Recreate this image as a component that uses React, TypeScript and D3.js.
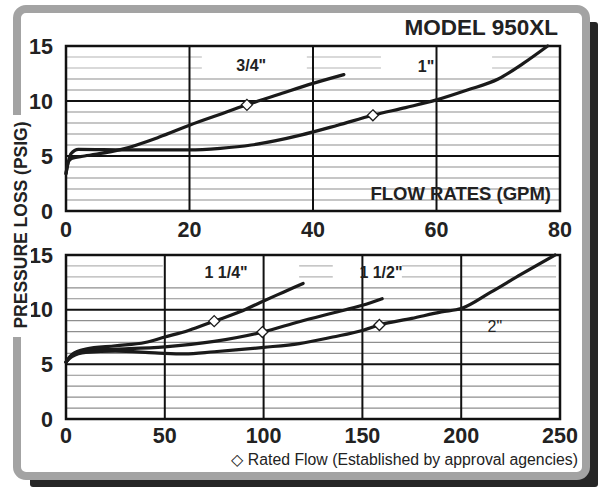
import React, { useEffect, useRef } from 'react';
import * as d3 from 'd3';

// axis ticks
const topTicksX = [0, 20, 40, 60, 80];
const bottomTicksX = [0, 50, 100, 150, 200, 250];
const ticksY = [0, 5, 10, 15];

// top panel: 3/4" and 1"
const flow34 = [0, 0.4, 1, 3, 9, 15, 20, 25, 29.3, 35, 40, 45];
const loss34 = [3.4, 4.5, 4.8, 5.0, 5.6, 6.7, 7.8, 8.8, 9.65, 10.7, 11.6, 12.4];
const flow1 = [0, 0.8, 2, 10, 20, 25, 30, 34, 38, 44, 49.7, 55, 60, 65, 70, 74, 78];
const loss1 = [3.4, 5.2, 5.6, 5.55, 5.55, 5.7, 6.0, 6.4, 6.9, 7.8, 8.7, 9.4, 10.1, 11.0, 12.0, 13.4, 15.0];
const ratedTop = [[29.3, 9.65], [49.7, 8.7]];

// bottom panel: 1 1/4", 1 1/2", 2"
const flow114 = [0, 3, 10, 25, 40, 50, 62, 75, 88, 100, 110, 120];
const loss114 = [5.2, 5.9, 6.4, 6.7, 7.0, 7.5, 8.1, 8.95, 9.8, 10.8, 11.6, 12.4];
const flow112 = [0, 3, 10, 25, 50, 75, 99.4, 118, 135, 150, 160];
const loss112 = [5.2, 5.8, 6.3, 6.4, 6.6, 7.1, 7.95, 8.9, 9.7, 10.4, 11.0];
const flow2 = [0, 3, 10, 25, 45, 60, 75, 100, 118, 135, 150, 158.6, 175, 190, 200, 215, 230, 247.5];
const loss2 = [5.2, 5.7, 6.1, 6.2, 6.05, 5.95, 6.15, 6.55, 6.9, 7.5, 8.1, 8.6, 9.2, 9.8, 10.1, 11.6, 13.2, 15.0];
const ratedBottom = [[75, 8.95], [99.4, 7.95], [158.6, 8.6]];

// size labels [text, flow, loss]
const labelsTop = [['3/4"', 30, 12.7], ['1"', 58.3, 12.6]];
const labelsBottom = [['1 1/4"', 81, 12.9], ['1 1/2"', 159.4, 12.9], ['2"', 217, 7.95]];

// light grid lines (13, 14) are broken in the original scan
const faintTop = [[0, 22], [39, 51], [69, 80]];
const faintBottom = [[0, 49], [118, 135], [170, 248]];

const font = '"Liberation Sans", Arial, sans-serif';

function zip(xs, ys) {
    return xs.map((x, i) => [x, ys[i]]);
}

function drawPanel(svg, opts) {
    const { top, bottom, xMax, ticksX, series, rated, labels, faint, tickBase } = opts;
    const left = 66;
    const right = 560;
    const sx = d3.scaleLinear().domain([0, xMax]).range([left, right]);
    const sy = d3.scaleLinear().domain([0, 15]).range([bottom, top]);
    const g = svg.append('g');

    // minor grid
    d3.range(1, 15).filter((v) => v % 5 !== 0).forEach((v) => {
        if (v >= 13) {
            faint.forEach(([a, b]) => {
                g.append('line')
                    .attr('x1', sx(a)).attr('x2', sx(b))
                    .attr('y1', sy(v)).attr('y2', sy(v))
                    .attr('stroke', '#b4b4b4').attr('stroke-width', 1.2);
            });
        } else {
            g.append('line')
                .attr('x1', left).attr('x2', right)
                .attr('y1', sy(v)).attr('y2', sy(v))
                .attr('stroke', '#8e8e8e').attr('stroke-width', 1.2);
        }
    });

    // major grid
    [5, 10].forEach((v) => {
        g.append('line')
            .attr('x1', left).attr('x2', right)
            .attr('y1', sy(v)).attr('y2', sy(v))
            .attr('stroke', '#111').attr('stroke-width', 2);
    });
    ticksX.slice(1, -1).forEach((v) => {
        g.append('line')
            .attr('x1', sx(v)).attr('x2', sx(v))
            .attr('y1', top).attr('y2', bottom)
            .attr('stroke', '#111').attr('stroke-width', 2);
    });

    g.append('rect')
        .attr('x', left).attr('y', top)
        .attr('width', right - left).attr('height', bottom - top)
        .attr('fill', 'none').attr('stroke', '#111').attr('stroke-width', 2.5);

    // tick labels
    ticksY.forEach((v) => {
        g.append('text')
            .attr('x', 53).attr('y', sy(v))
            .attr('dy', '0.36em')
            .attr('text-anchor', 'end')
            .attr('font-family', font).attr('font-weight', 'bold').attr('font-size', 21.5)
            .attr('fill', '#222')
            .text(v);
    });
    ticksX.forEach((v) => {
        g.append('text')
            .attr('x', sx(v)).attr('y', bottom + tickBase)
            .attr('text-anchor', 'middle')
            .attr('font-family', font).attr('font-weight', 'bold').attr('font-size', 21.5)
            .attr('fill', '#222')
            .text(v);
    });

    const line = d3.line()
        .curve(d3.curveMonotoneX)
        .x((d) => sx(d[0]))
        .y((d) => sy(d[1]));

    series.forEach((s) => {
        g.append('path')
            .datum(s)
            .attr('fill', 'none')
            .attr('stroke', '#1a1a1a')
            .attr('stroke-width', 3.2)
            .attr('stroke-linejoin', 'round')
            .attr('stroke-linecap', 'round')
            .attr('d', line);
    });

    rated.forEach(([x, y]) => {
        g.append('path')
            .attr('transform', `translate(${sx(x)},${sy(y)})`)
            .attr('d', 'M0,-5.5L5.5,0L0,5.5L-5.5,0Z')
            .attr('fill', 'white')
            .attr('stroke', '#1a1a1a')
            .attr('stroke-width', 1.3);
    });

    labels.forEach(([t, x, y]) => {
        g.append('text')
            .attr('x', sx(x)).attr('y', sy(y))
            .attr('text-anchor', 'middle')
            .attr('font-family', font)
            .attr('font-weight', t === '2"' ? 'normal' : 'bold')
            .attr('font-size', 16)
            .attr('fill', '#222')
            .text(t);
    });

    return g;
}

export default function App() {
    const ref = useRef(null);

    useEffect(() => {
        const svg = d3.select(ref.current);
        svg.selectAll('*').remove();

        // shadow + frame
        svg.append('rect')
            .attr('x', 30).attr('y', 22).attr('width', 568).attr('height', 465)
            .attr('rx', 3).attr('fill', '#262626');
        svg.append('rect')
            .attr('x', 17).attr('y', 9).attr('width', 569).attr('height', 467)
            .attr('rx', 9)
            .attr('fill', 'white').attr('stroke', '#a3a3a3').attr('stroke-width', 8);

        drawPanel(svg, {
            top: 46, bottom: 211, xMax: 80, ticksX: topTicksX,
            series: [zip(flow34, loss34), zip(flow1, loss1)],
            rated: ratedTop, labels: labelsTop, faint: faintTop, tickBase: 26
        });
        drawPanel(svg, {
            top: 255, bottom: 419, xMax: 250, ticksX: bottomTicksX,
            series: [zip(flow114, loss114), zip(flow112, loss112), zip(flow2, loss2)],
            rated: ratedBottom, labels: labelsBottom, faint: faintBottom, tickBase: 24
        });

        svg.append('text')
            .attr('x', 558).attr('y', 35)
            .attr('text-anchor', 'end')
            .attr('font-family', font).attr('font-weight', 'bold').attr('font-size', 22.5)
            .attr('fill', '#222')
            .text('MODEL 950XL');

        svg.append('text')
            .attr('x', 551).attr('y', 200)
            .attr('text-anchor', 'end')
            .attr('font-family', font).attr('font-weight', 'bold').attr('font-size', 18.5)
            .attr('fill', '#222')
            .text('FLOW RATES (GPM)');

        // y title sits over the left frame bar
        svg.append('rect')
            .attr('x', 9).attr('y', 115).attr('width', 22).attr('height', 222)
            .attr('fill', 'white');
        svg.append('text')
            .attr('transform', 'translate(26.5,225) rotate(-90)')
            .attr('text-anchor', 'middle')
            .attr('font-family', font).attr('font-weight', 'bold').attr('font-size', 17.5)
            .attr('fill', '#222')
            .text('PRESSURE LOSS (PSIG)');

        svg.append('text')
            .attr('x', 578).attr('y', 465)
            .attr('text-anchor', 'end')
            .attr('font-family', font).attr('font-size', 15.8)
            .attr('fill', '#222')
            .text('\u25C7 Rated Flow (Established by approval agencies)');
    }, []);

    return (
        <svg
            ref={ref}
            width={600}
            height={487}
            style={{ position: 'absolute', left: 0, top: 0, background: 'white' }}
        />
    );
}
